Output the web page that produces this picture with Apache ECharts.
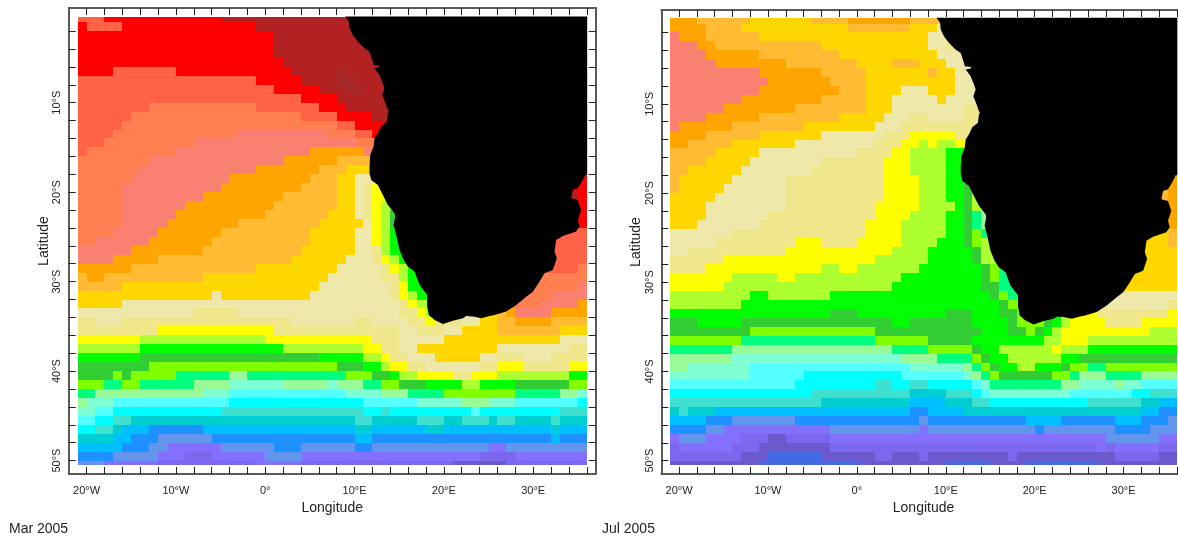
<!DOCTYPE html>
<html>
<head>
<meta charset="utf-8">
<style>html,body{margin:0;padding:0;background:#fff}#c{width:1178px;height:540px}</style>
<script src="https://cdn.jsdelivr.net/npm/echarts@6/dist/echarts.min.js"></script>
</head>
<body>
<div id="c"></div>
<script>
// Colour classes, warm to cold
const levelCodes = 'DabcdefghijklmnopqrstuvwxyzABC';
const levelColors = ['#A52A2A','#B22222','#FF0000','#FF6347','#FF7F50','#FA8072','#FFA500','#FFBB33','#FFD700','#EEE8AA','#F0E68C','#FFFF00','#ADFF2F','#00FF00','#32CD32','#7FFF00','#00FF7F','#98FB98','#7FFFD4','#54FFFF','#00FFFF','#40E0D0','#00CED1','#00BFFF','#1E90FF','#6495ED','#8470FF','#7B68EE','#6A5ACD','#4169E1'];

// One string per latitude row, north to south: <class><first longitude of the run>
const marRows = [
'c-21 b-18 a-5',
'b-21 c-20 b-16 a-1',
'b-21 a1',
'b-21 a1',
'b-21 a1',
'b-21 a2',
'b-21 c-17 b-10 a3 D8 a9',
'c-21 b-1 a4 D8 a10',
'c-21 b1 a6 D9 a11',
'c-21 b4 a8',
'c-21 d-13 c-1 b6 a9',
'c-21 d-15 c4 b8 a12',
'c-21 d-16 c8 b10',
'c-21 d-17 e-3 d7 c10 b12',
'c-21 d-18 e-8 d10',
'c-21 d-20 e-10 f5 e11',
'd-21 e-13 f2 g8',
'd-21 e-14 f-1 g6 h9',
'd-21 e-15 f-4 g5 h8 i10 b34',
'd-21 e-16 f-5 g4 h8 i10 j11 k12 b34',
'd-21 e-16 f-7 g2 h8 i10 j11 k12 a34 b35',
'd-21 e-16 f-9 g1 h8 i10 j11 k12 l13 b34',
'd-21 e-16 f-10 g0 h7 i10 j11 k12 l13 n14 b34',
'd-21 e-16 f-11 g-3 h6 i11 k12 l13 n14 b34',
'd-21 e-17 f-12 g-5 h5 i10 k12 l13 m14 c33',
'd-21 e-19 f-13 g-6 h5 i10 k12 l13 m14 c32',
'e-21 f-15 g-7 h4 i10 j12 l13 m14 c32',
'e-21 f-17 g-12 h3 i9 j12 k13 l14 m15 c32',
'f-21 g-15 h-1 i8 j13 k14 l15 m16 c31 d35',
'g-21 f-20 g-18 h-7 i7 j13 l15 m16 d30',
'g-21 h-16 i6 j14 k15 m16 d29 e35',
'h-21 i-6 h-5 i5 j14 k15 l16 m17 d28 e32',
'h-21 i-16 j15 k16 l17 d27 e31 f35',
'i-21 j-8 i-3 j15 k17 l18 j20 i22 h24 g26 f27 e28 f32',
'j-21 i-19 j-16 i3 j10 i12 j16 k18 j19 i22 h24 g26 f28 g32',
'j-21 k-12 j1 i15 j17 i20 h22 g26 h33',
'k-21 l-14 k0 j12 i15 h20 i33',
'l-21 m-14 l2 k11 j13 i15 h17 i26 j34',
'm-21 n-14 m6 l11 k13 j14 i16 h19 i24 j26 i29 j32',
'n-21 o-13 n8 m11 l13 k14 j16 i18 j24 k26 j29 k34',
'n-21 o-17 n-16 o-15 p-10 q-4 p-2 o9 n12 m14 l15 k17 j21 k23 l26 m34',
'o-21 p-18 o-16 p-14 q-8 r-4 q2 r7 q8 p11 o13 n15 m18 l22 m24 n28 o34',
'p-21 q-19 r-7 s-4 r9 q13 p16 o20 p28 q33 r35',
'q-21 r-20 s-17 t-4 s11 r17 q22 r25 s28 t35',
'r-21 s-19 t-17 u-5 t11 u13 t14 s23 t24 u33',
's-21 t-19 u-17 v-15 u10 v12 u17 v20 u22 v25 u26 v28 u32 v33',
't-21 u-19 v-17 w-16 x-13 w-7 v10 w12 v18 w20 v32 w33',
'v-21 w-17 x-15 y-12 x-6 w10 x12 w32 x33',
'w-21 x-16 y-13 z-11 y-5 x1 y4 x10 y12 z25 y27',
'x-21 y-17 z-12 A-9 z-6 y0 z4 A24 z28',
'y-21 z-18 A-12 z-1 A4 B21 A27'
];

const julRows = [
'f-21 g-18 h-12 g-5 f-1 g6',
'f-21 g-17 h-13 g-1 h6 i9',
'e-21 f-20 g-17 h-11 i8',
'e-21 f-18 g-16 h-4 i8 j10',
'e-21 f-17 g-11 h-2 i9',
'e-21 f-16 g-8 h0 g4 h7 i10',
'e-21 f-11 g-4 h1 g8 h9 i11',
'e-21 f-10 g-3 h1 i11',
'e-21 f-11 g-2 h1 i5 h8 i11',
'e-21 f-13 g-4 h1 i4 h9 i10',
'e-21 f-15 g-7 h1 i4 j12',
'e-21 f-17 g-11 h-2 i3 j6 i8 j12',
'e-21 f-20 g-14 h-6 i2 j5',
'f-21 g-17 h-11 i-4 j3 k6 j11',
'f-21 g-19 h-14 i-7 j2 k5 l7 k8 l9 k11',
'g-21 h-16 i-11 j0 k4 l6 m10',
'g-21 h-17 i-12 j-4 k3 l6 m10',
'g-21 h-19 i-13 j-5 k3 l6 m10',
'g-21 h-20 i-14 j-8 k3 l7 m10 f34',
'g-21 h-20 i-15 j-8 k3 l7 m10 n12 g34 f35',
'h-21 i-16 j-8 k3 l7 m10 n12 l13 g34 f35',
'h-21 i-17 j-8 k2 l7 m11 n12 l13 f34',
'h-21 i-17 j-10 k2 l6 m10 n12 p13 q14 f34',
'h-21 i-18 j-11 k1 l5 m10 n12 p13 q14 f34',
'i-21 j-14 k1 l5 m10 n12 o13 p14 h33 g35',
'i-21 j-16 k-7 j-4 k0 l5 m9 n12 o13 l14 h31 g35',
'i-21 j-19 k-8 l4 m8 n13 l14 h31',
'j-21 k-15 l2 m8 n13 l14 h31',
'j-21 k-17 l-4 k-2 l0 m7 n14 o15 p16 h31',
'k-21 l-14 k-9 l-7 m5 n14 o15 p16 h30',
'k-21 l-15 m4 n14 p16 h29',
'l-21 m-12 l-10 m-3 n15 o16 p17 i28',
'l-21 m-13 n16 o17 i27 j35',
'm-21 n-3 m0 n10 m13 n16 o18 n21 l23 k24 j27 k35',
'n-21 m-18 n-13 m4 n6 m13 n17 o18 n21 m22 l23 k24 j28 k32',
'n-21 o-12 n2 m14 n17 o19 n20 m21 l22 k23 l33',
'o-21 p-13 o2 n8 m13 l21 k23 l26',
'p-21 q-14 p4 o8 n13 m14 l16 k22 l23 m26',
'q-21 r-14 q5 p9 o13 n14 m15 l17 m23 n25',
'q-21 r-19 s-12 r6 q12 p13 o14 n15 m16 l18 m20 n23 o24 p26 o28',
'r-21 s-12 t-6 s5 r12 q13 p14 o15 n16 o22 p24 q25 p28 q32',
's-21 t-7 u2 t4 u6 t8 s13 r14 p15 q23 r25 q29 r30 s32',
't-21 u-5 v6 u10 t13 s14 r15 s24 t31 u33',
'u-21 v-4 w6 v10 u13 t15 u26 v32 w34',
'v-21 u-20 v-19 w-16 x6 w8 v12 w32 x34',
'w-21 x-17 y-14 x-7 y7 x8 w19 x23 w29 x32 y35',
'x-21 y-17 z-15 y-3 z7 y8 x20 y21 x29 y33',
'z-21 y-20 z-17 A-13 B-10 A-8 z-3 y28 z34',
'A-21 z-20 A-14 B-11 A-3 z27 A28 z29 A34',
'A-21 B-13 C-10 B-4 A2 B4 A7 B8 A17 B18 A29 B34',
'B-21 C-11 B0 C10 B15 C19 B27'
];

// Land outline, [longitude, latitude]
const coastLon = [8.96,9.37,9.44,9.81,10.37,11.12,11.68,12.05,12.13,12.87,12.79,12.24,12.8,13.17,13.36,13.1,13.47,13.73,13.84,13.73,13.62,13.0,12.6,12.24,12.13,11.75,11.68,11.68,11.87,12.61,13.17,13.73,14.48,14.55,14.37,14.66,15.04,15.49,15.97,16.72,17.28,18.13,18.13,18.32,18.96,19.89,21.0,22.13,22.5,23.25,24.18,25.11,25.67,26.98,28.1,29.22,29.96,30.71,31.27,32.2,32.65,32.39,32.57,33.32,34.81,35.19,35.0,35.37,35.0,34.25,34.44,35.0,35.56,35.85,36.05,36.05];
const coastLat = [-0.36,-0.95,-1.69,-2.44,-3.18,-3.93,-4.3,-5.42,-5.79,-5.87,-6.05,-6.16,-6.91,-7.84,-8.4,-9.14,-10.07,-10.82,-10.93,-11.19,-12.12,-12.6,-13.43,-13.99,-14.92,-15.85,-17.15,-17.9,-18.64,-19.2,-20.32,-21.43,-22.37,-22.74,-23.67,-24.79,-26.46,-27.58,-28.32,-28.88,-30.37,-31.49,-32.79,-33.72,-34.28,-34.73,-34.36,-34.1,-33.84,-33.91,-34.1,-33.84,-33.72,-33.35,-32.6,-31.68,-31.12,-30,-29.07,-28.7,-27.39,-26.65,-25.34,-24.9,-24.41,-23.85,-23.11,-21.99,-20.88,-20.69,-19.76,-19.57,-18.64,-18.02,-18.02,-0.36];

// Axis ticks and labels
const lonMinor = [-20,-18,-16,-14,-12,-10,-8,-6,-4,-2,0,2,4,6,8,10,12,14,16,18,20,22,24,26,28,30,32,34,36];
const lonLabels = [-20,-10,0,10,20,30];
const latMinor = [-2,-4,-6,-8,-10,-12,-14,-16,-18,-20,-22,-24,-26,-28,-30,-32,-34,-36,-38,-40,-42,-44,-46,-48,-50];
const latLabels = [-10,-20,-30,-40,-50];
const panelTitles = ['Mar 2005','Jul 2005'];

const lonEnd = 36, latTop = -0.42, latBottom = -50.5;

function rowsToCells(rows){
  const cells = [];
  rows.forEach((row, k) => {
    const north = k === 0 ? latTop : -k;
    const south = k === rows.length - 1 ? latBottom : -(k + 1);
    const runs = row.split(' ').map(r => [r[0], parseInt(r.slice(1), 10)]);
    runs.forEach((r, i) => {
      const stop = i + 1 < runs.length ? runs[i + 1][1] : lonEnd;
      cells.push([r[1], north, stop, south, levelCodes.indexOf(r[0])]);
    });
  });
  return cells;
}

const renderCell = (params, api) => {
  const a = api.coord([api.value(0), api.value(1)]);
  const b = api.coord([api.value(2), api.value(3)]);
  const x = Math.round(a[0]), y = Math.round(a[1]);
  return {type:'rect', shape:{x, y, width:Math.round(b[0]) - x, height:Math.round(b[1]) - y},
    style:{fill:levelColors[api.value(4)]}};
};
const renderLand = (params, api) => {
  if (params.dataIndex !== 0) return null;
  return {type:'polygon', shape:{points:coastLon.map((lon, i) => api.coord([lon, coastLat[i]]))}, style:{fill:'#000'}};
};

const frame = {show:true, onZero:false, lineStyle:{color:'#5a5a5a', width:2}};
const tick = vals => ({show:true, inside:true, length:7, customValues:vals, lineStyle:{color:'#222', width:1}});
const txt = {color:'#222', fontFamily:'"Liberation Sans"'};

const grids = [
  {left:68.7, top:8, width:527, height:466, latMax:0.58},
  {left:661.3, top:10, width:524.5, height:464, latMax:0.52}
];
const option = {animation:false, backgroundColor:'#fff', grid:[], xAxis:[], yAxis:[], series:[], title:[]};
grids.forEach((g, p) => {
  option.grid.push({left:g.left, top:g.top, width:g.width, height:g.height, outerBoundsMode:'none', containLabel:false});
  const xBase = {type:'value', gridIndex:p, min:-22, max:37, splitLine:{show:false}, axisLine:frame, axisTick:tick(lonMinor)};
  const yBase = {type:'value', gridIndex:p, min:-51.5, max:g.latMax, splitLine:{show:false}, axisLine:frame, axisTick:tick(latMinor)};
  option.xAxis.push(Object.assign({}, xBase, {position:'bottom', name:'Longitude', nameLocation:'middle', nameGap:21,
    nameTextStyle:Object.assign({fontSize:14}, txt),
    axisLabel:Object.assign({show:true, fontSize:11, margin:11, customValues:lonLabels,
      formatter:v => v < 0 ? (-v) + '°W' : v > 0 ? v + '°E' : '0°'}, txt)}));
  option.xAxis.push(Object.assign({}, xBase, {position:'top', axisLabel:{show:false}}));
  option.yAxis.push(Object.assign({}, yBase, {position:'left', name:'Latitude', nameLocation:'middle', nameGap:18, nameRotate:90,
    nameTextStyle:Object.assign({fontSize:14}, txt),
    axisLabel:Object.assign({show:true, fontSize:11, margin:6, rotate:90, customValues:latLabels,
      formatter:v => (-v) + '°S'}, txt)}));
  option.yAxis.push(Object.assign({}, yBase, {position:'right', axisLabel:{show:false}}));
  option.series.push({type:'custom', xAxisIndex:p * 2, yAxisIndex:p * 2, silent:true, clip:true, progressive:0,
    encode:{x:[0,2], y:[1,3]}, data:rowsToCells(p === 0 ? marRows : julRows), renderItem:renderCell});
  option.series.push({type:'custom', xAxisIndex:p * 2, yAxisIndex:p * 2, silent:true, clip:true, z:3,
    encode:{x:0, y:1}, data:coastLon.map((lon, i) => [lon, coastLat[i]]), renderItem:renderLand});
  option.title.push({text:panelTitles[p], left:p === 0 ? 9 : 602, top:522, padding:0,
    textStyle:Object.assign({fontSize:14, fontWeight:'normal'}, txt)});
});
echarts.init(document.getElementById('c'), null, {renderer:'canvas'}).setOption(option);
</script>
</body>
</html>
